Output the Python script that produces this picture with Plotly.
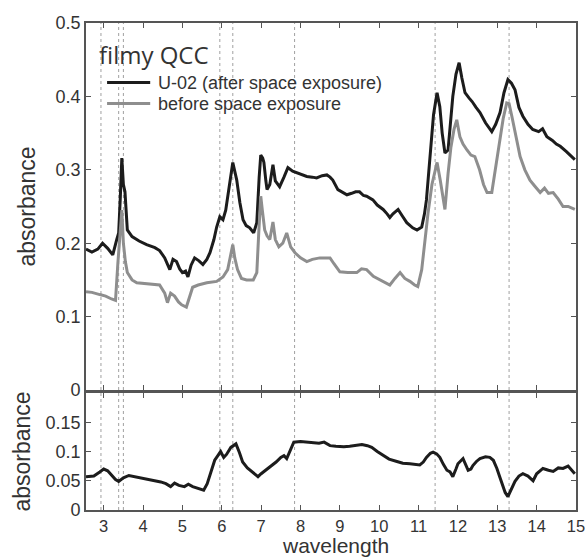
import plotly.graph_objects as go
from plotly.subplots import make_subplots

# --- spectra of the filmy QCC sample -------------------------------------
# after space exposure (U-02)
after_wl = [2.55, 2.7, 2.85, 2.97, 3.1, 3.23, 3.33, 3.38, 3.42, 3.46, 3.5, 3.54, 3.6,
            3.72, 3.9, 4.09, 4.3, 4.42, 4.55, 4.68, 4.76, 4.85, 4.93, 5.0, 5.08, 5.14,
            5.22, 5.31, 5.42, 5.52, 5.62, 5.7, 5.8, 5.87, 5.95, 6.03, 6.1, 6.15, 6.22,
            6.28, 6.33, 6.38, 6.46, 6.54, 6.62, 6.71, 6.81, 6.89, 6.95, 6.99, 7.04,
            7.07, 7.12, 7.15, 7.22, 7.3, 7.36, 7.47, 7.58, 7.68, 7.8, 7.9, 8.05, 8.16,
            8.3, 8.41, 8.55, 8.67, 8.75, 8.82, 8.95, 9.05, 9.18, 9.3, 9.4, 9.5, 9.6,
            9.68, 9.84, 9.95, 10.1, 10.2, 10.27, 10.35, 10.48, 10.6, 10.7, 10.85,
            10.96, 11.08, 11.15, 11.2, 11.29, 11.38, 11.47, 11.54, 11.6, 11.67, 11.75,
            11.82, 11.87, 11.95, 12.03, 12.1, 12.18, 12.28, 12.36, 12.46, 12.56, 12.7,
            12.86, 12.96, 13.07, 13.17, 13.27, 13.36, 13.45, 13.55, 13.65, 13.78, 13.9,
            14.05, 14.15, 14.26, 14.4, 14.5, 14.6, 14.75, 14.85, 14.97]
after_abs = [0.192, 0.188, 0.192, 0.2, 0.193, 0.184, 0.205, 0.214, 0.26, 0.316, 0.28,
             0.27, 0.218, 0.209, 0.203, 0.198, 0.194, 0.19, 0.18, 0.164, 0.178, 0.175,
             0.165, 0.16, 0.162, 0.154, 0.17, 0.18, 0.176, 0.171, 0.178, 0.187, 0.205,
             0.222, 0.236, 0.232, 0.245, 0.263, 0.29, 0.31, 0.298, 0.286, 0.255, 0.232,
             0.224, 0.221, 0.214, 0.228, 0.29, 0.32, 0.316, 0.31, 0.285, 0.273, 0.28,
             0.307, 0.285, 0.277, 0.29, 0.303, 0.298, 0.296, 0.293, 0.291, 0.29, 0.289,
             0.292, 0.293, 0.29, 0.286, 0.273, 0.27, 0.266, 0.268, 0.27, 0.27, 0.265,
             0.264, 0.259, 0.252, 0.246, 0.24, 0.235, 0.24, 0.246, 0.236, 0.228, 0.221,
             0.218, 0.222, 0.24, 0.259, 0.318, 0.375, 0.405, 0.386, 0.35, 0.323, 0.327,
             0.37, 0.4, 0.43, 0.446, 0.425, 0.405, 0.398, 0.393, 0.385, 0.378, 0.364,
             0.352, 0.362, 0.378, 0.405, 0.423, 0.418, 0.409, 0.385, 0.373, 0.362, 0.355,
             0.352, 0.356, 0.345, 0.34, 0.335, 0.332, 0.325, 0.32, 0.314]

# before space exposure
before_wl = [2.55, 2.7, 2.9, 3.05, 3.2, 3.3, 3.36, 3.42, 3.46, 3.5, 3.55, 3.6, 3.72,
             3.84, 4.1, 4.3, 4.42, 4.55, 4.62, 4.7, 4.8, 4.9, 4.98, 5.1, 5.18, 5.26,
             5.4, 5.62, 5.87, 6.03, 6.15, 6.22, 6.28, 6.33, 6.4, 6.5, 6.63, 6.8, 6.89,
             6.94, 6.99, 7.03, 7.09, 7.15, 7.22, 7.3, 7.36, 7.45, 7.55, 7.65, 7.75, 7.86,
             8.0, 8.16, 8.3, 8.49, 8.75, 8.85, 9.0, 9.2, 9.43, 9.55, 9.68, 9.85, 10.02,
             10.15, 10.27, 10.4, 10.53, 10.65, 10.78, 10.9, 10.98, 11.08, 11.15, 11.24,
             11.34, 11.42, 11.47, 11.55, 11.62, 11.67, 11.75, 11.82, 11.9, 11.97, 12.05,
             12.13, 12.23, 12.33, 12.43, 12.55, 12.65, 12.74, 12.86, 12.95, 13.07, 13.15,
             13.24, 13.3, 13.37, 13.47, 13.58, 13.7, 13.83, 13.95, 14.09, 14.2, 14.3,
             14.42, 14.55, 14.67, 14.8, 14.97]
before_abs = [0.134, 0.133, 0.13, 0.128, 0.124, 0.122, 0.173, 0.22, 0.245, 0.2, 0.175,
              0.16, 0.15, 0.146, 0.145, 0.144, 0.143, 0.132, 0.119, 0.132, 0.128, 0.12,
              0.116, 0.113, 0.125, 0.14, 0.143, 0.146, 0.148, 0.154, 0.164, 0.18, 0.198,
              0.18, 0.164, 0.152, 0.15, 0.15, 0.16, 0.215, 0.264, 0.245, 0.218, 0.21,
              0.205, 0.229, 0.205, 0.195, 0.2, 0.214, 0.195, 0.187, 0.18, 0.175, 0.178,
              0.18, 0.18, 0.172, 0.161, 0.16, 0.16, 0.165, 0.164, 0.155, 0.15, 0.146,
              0.143, 0.152, 0.16, 0.152, 0.148, 0.143, 0.141, 0.164, 0.2, 0.241, 0.28,
              0.3, 0.31, 0.286, 0.262, 0.246, 0.295, 0.33, 0.355, 0.368, 0.345, 0.335,
              0.327, 0.32, 0.318, 0.3, 0.28, 0.269, 0.269, 0.3, 0.341, 0.37, 0.391, 0.39,
              0.373, 0.345, 0.318, 0.3, 0.286, 0.278, 0.269, 0.275, 0.268, 0.269, 0.26,
              0.25, 0.25, 0.246]

# difference spectrum (after - before)
diff_wl = [2.55, 2.75, 2.9, 3.0, 3.1, 3.2, 3.3, 3.38, 3.5, 3.64, 3.8, 3.99, 4.15, 4.32,
           4.45, 4.58, 4.7, 4.8, 4.91, 5.05, 5.15, 5.26, 5.4, 5.54, 5.63, 5.72, 5.82,
           5.9, 5.97, 6.05, 6.12, 6.23, 6.36, 6.45, 6.53, 6.65, 6.78, 6.92, 7.0, 7.12,
           7.25, 7.38, 7.5, 7.58, 7.65, 7.72, 7.83, 8.0, 8.14, 8.3, 8.47, 8.6, 8.75, 8.9,
           9.1, 9.25, 9.4, 9.56, 9.7, 9.81, 9.95, 10.1, 10.25, 10.45, 10.6, 10.78, 11.03,
           11.12, 11.2, 11.3, 11.37, 11.46, 11.54, 11.63, 11.72, 11.8, 11.87, 11.95, 12.0,
           12.13, 12.2, 12.26, 12.33, 12.38, 12.47, 12.56, 12.7, 12.81, 12.9, 12.99,
           13.07, 13.14, 13.2, 13.27, 13.35, 13.45, 13.55, 13.65, 13.78, 13.91, 14.0,
           14.16, 14.3, 14.42, 14.55, 14.67, 14.8, 14.97]
diff_abs = [0.057, 0.058, 0.065, 0.07, 0.067, 0.059, 0.052, 0.049, 0.055, 0.059, 0.057,
            0.055, 0.053, 0.05, 0.048, 0.045, 0.04, 0.046, 0.042, 0.04, 0.044, 0.04,
            0.037, 0.034, 0.045, 0.066, 0.085, 0.093, 0.1, 0.09, 0.095, 0.107, 0.113,
            0.098, 0.082, 0.072, 0.065, 0.057, 0.062, 0.068, 0.075, 0.082, 0.09, 0.093,
            0.088, 0.1, 0.116, 0.117, 0.116, 0.115, 0.114, 0.116, 0.11, 0.109, 0.108,
            0.109, 0.111, 0.112, 0.11, 0.107, 0.1, 0.093, 0.087, 0.083, 0.08, 0.079,
            0.077, 0.082, 0.09, 0.097, 0.099, 0.096, 0.09, 0.078, 0.068, 0.065, 0.057,
            0.07, 0.079, 0.088, 0.078, 0.068, 0.07, 0.076, 0.083, 0.088, 0.091, 0.09,
            0.085, 0.071, 0.055, 0.042, 0.03, 0.023, 0.035, 0.049, 0.058, 0.062, 0.058,
            0.05, 0.062, 0.071, 0.068, 0.066, 0.072, 0.071, 0.075, 0.062]

# absorption band positions marked with dotted guides
band_centers = [2.93, 3.38, 3.5, 5.95, 6.28, 7.85, 11.42, 13.3]

upper_ticks = [0, 0.1, 0.2, 0.3, 0.4, 0.5]
upper_labels = ["0", "0.1", "0.2", "0.3", "0.4", "0.5"]
lower_ticks = [0, 0.05, 0.1, 0.15]
lower_labels = ["0", "0.05", "0.1", "0.15"]
x_ticks = list(range(3, 16))

legend_title = "filmy QCC"
series_names = ["U-02 (after space exposure)", "before space exposure"]

BLACK = "#1c1c1c"
GRAY = "#8e8e8e"
FRAME = "#555555"
TEXT = "#333333"
SANS = "Liberation Sans, Arial, sans-serif"
Y_TICK_FONT = dict(family=SANS, size=18, color=TEXT)
X_TICK_FONT = dict(family=SANS, size=16.5, color=TEXT)
TITLE_FONT = dict(family=SANS, size=23, color=TEXT)
LEGEND_FAMILY = "Open Sans, sans-serif"

fig = make_subplots(rows=2, cols=1, shared_xaxes=True, vertical_spacing=0.006,
                    row_heights=[0.755, 0.245])

fig.add_trace(go.Scatter(x=after_wl, y=after_abs, mode="lines", name=series_names[0],
                         line=dict(color=BLACK, width=3)), row=1, col=1)
fig.add_trace(go.Scatter(x=before_wl, y=before_abs, mode="lines", name=series_names[1],
                         line=dict(color=GRAY, width=3)), row=1, col=1)
fig.add_trace(go.Scatter(x=diff_wl, y=diff_abs, mode="lines", name="difference",
                         line=dict(color=BLACK, width=3)), row=2, col=1)

for wl in band_centers:
    fig.add_vline(x=wl, line=dict(color="#a0a0a0", width=1, dash="dot"),
                  row="all", col=1, layer="below")

axis_common = dict(showline=True, linecolor=FRAME, linewidth=1.6, mirror="ticks",
                   ticks="inside", ticklen=5, tickcolor=FRAME, tickwidth=1,
                   showgrid=False, zeroline=False)

fig.update_xaxes(range=[2.55, 15], tickvals=x_ticks, ticklabeloverflow="allow",
                 tickfont=X_TICK_FONT, **axis_common)
fig.update_xaxes(showticklabels=False, row=1, col=1)

fig.update_yaxes(tickfont=Y_TICK_FONT, **axis_common)
fig.update_yaxes(range=[0, 0.5], tickvals=upper_ticks, ticktext=upper_labels,
                 title=dict(text="absorbance", font=TITLE_FONT, standoff=14),
                 row=1, col=1)
fig.update_yaxes(range=[0, 0.2], tickvals=lower_ticks, ticktext=lower_labels,
                 title=dict(text="absorbance", font=TITLE_FONT, standoff=8),
                 row=2, col=1)

# x-axis title, sitting at the foot of the figure below the tick labels
fig.add_annotation(text="wavelength", xref="paper", yref="paper", x=0.51, y=-0.0986,
                   xanchor="center", yanchor="bottom", showarrow=False,
                   font=dict(family=SANS, size=21, color=TEXT), borderpad=0)

# legend block: title, line keys and labels in the upper-left corner
fig.add_annotation(text=legend_title, xref="paper", yref="paper", x=0.022, y=0.9343,
                   xanchor="left", yanchor="middle", showarrow=False,
                   font=dict(family=LEGEND_FAMILY, size=24, color=TEXT))
key_rows = [(0.8778, BLACK), (0.8347, GRAY)]
for (ky, kc), label in zip(key_rows, series_names):
    fig.add_shape(type="line", xref="paper", yref="paper", x0=0.043, x1=0.131,
                  y0=ky, y1=ky, line=dict(color=kc, width=3))
    fig.add_annotation(text=label, xref="paper", yref="paper", x=0.145, y=ky,
                       xanchor="left", yanchor="middle", showarrow=False,
                       font=dict(family=SANS, size=18, color=TEXT),
                       borderpad=0)

fig.update_layout(
    width=585, height=558,
    margin=dict(l=86, r=9, t=23, b=48, autoexpand=False),
    paper_bgcolor="white", plot_bgcolor="white",
    yaxis=dict(domain=[0.2464, 1.0]),
    yaxis2=dict(domain=[0.0, 0.2402]),
    showlegend=False,
)

fig.write_html("out.html")
